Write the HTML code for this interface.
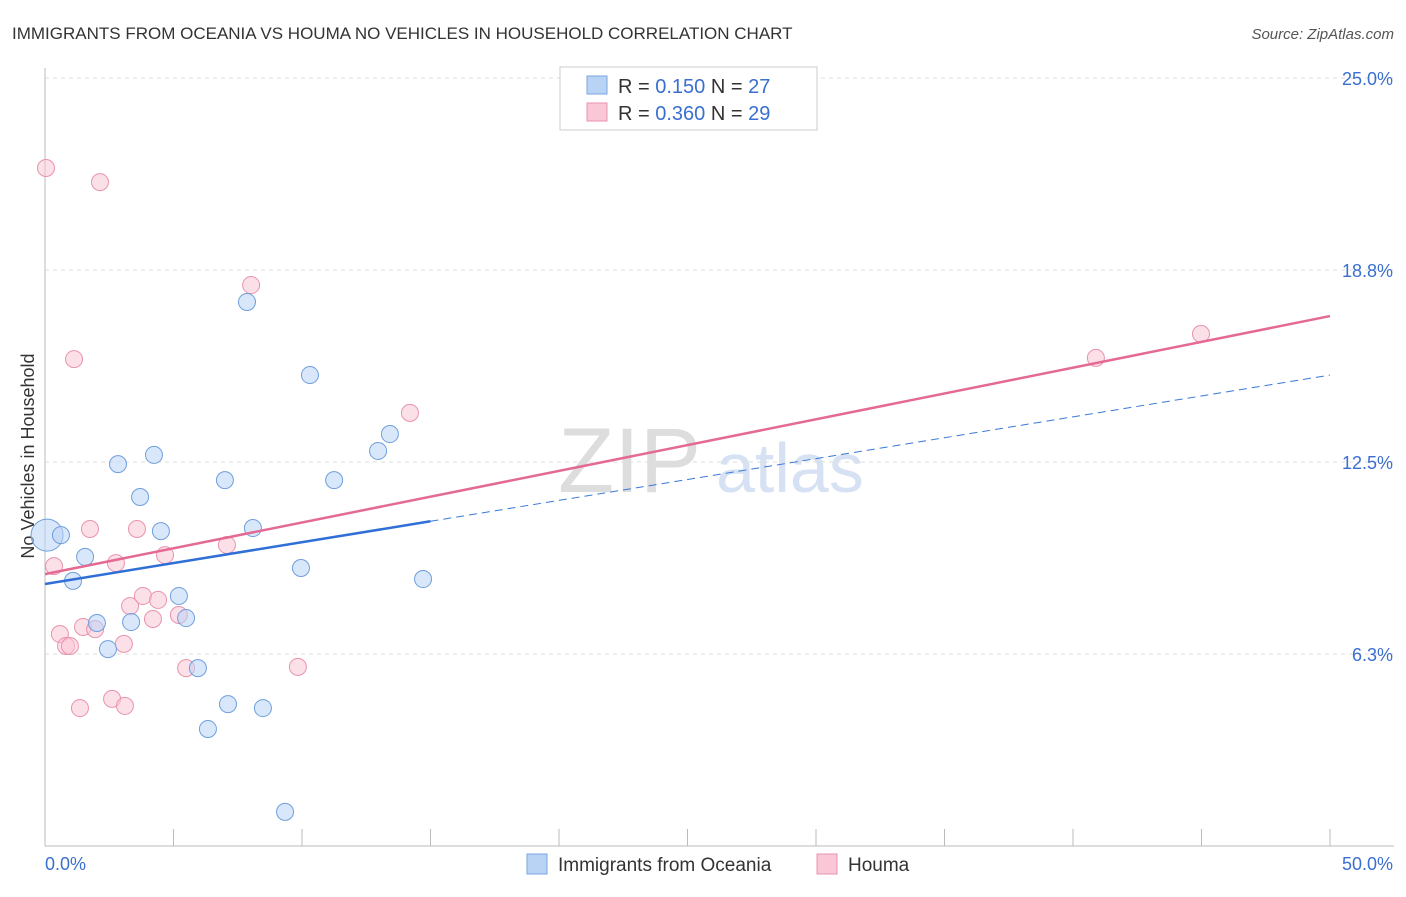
<!DOCTYPE html>
<html><head><meta charset="utf-8"><style>
body{margin:0;background:#fff;font-family:"Liberation Sans",sans-serif}
svg text{font-family:"Liberation Sans",sans-serif}
</style></head><body>
<svg id="c" width="1406" height="892">
<text x="12" y="39" font-size="17" fill="#333">IMMIGRANTS FROM OCEANIA VS HOUMA NO VEHICLES IN HOUSEHOLD CORRELATION CHART</text>
<text x="1394" y="39" font-size="15" fill="#555" text-anchor="end" font-style="italic">Source: ZipAtlas.com</text>
<text x="558" y="492" font-size="92" fill="#ddd" font-family="Liberation Serif">ZIP</text>
<text x="716" y="492" font-size="70" fill="#d6e2f3">atlas</text>
<text transform="translate(34,456) rotate(-90)" font-size="18" fill="#333" text-anchor="middle">No Vehicles in Household</text>
<g id="grid"></g><g id="marks"></g>
<g>
<rect x="560" y="67" width="257" height="63" fill="#fff" stroke="#ccc"/>
<rect x="587" y="76" width="20" height="18" fill="#b9d3f5" stroke="#7aa6e0"/>
<rect x="587" y="103" width="20" height="18" fill="#f9c7d6" stroke="#e993ad"/>
<text x="618" y="93" font-size="20" fill="#333">R = <tspan fill="#3a6fd0">0.150</tspan>  N = <tspan fill="#3a6fd0">27</tspan></text>
<text x="618" y="120" font-size="20" fill="#333">R = <tspan fill="#3a6fd0">0.360</tspan>  N = <tspan fill="#3a6fd0">29</tspan></text>
</g>
<g>
<rect x="527" y="854" width="20" height="20" fill="#b9d3f5" stroke="#7aa6e0"/>
<text x="558" y="871" font-size="19" fill="#333">Immigrants from Oceania</text>
<rect x="817" y="854" width="20" height="20" fill="#f9c7d6" stroke="#e993ad"/>
<text x="848" y="871" font-size="19" fill="#333">Houma</text>
</g>
</svg>
<script>
const yTicks=[6.25,12.5,18.75,25];
const yTickLabels=["6.3%","12.5%","18.8%","25.0%"];
const xTickLabels=["0.0%","50.0%"];
const blueX=[0.08,0.62,1.56,1.09,2.84,3.70,4.24,4.51,2.02,3.35,2.45,5.21,5.49,5.95,7.12,6.34,8.48,7.00,8.09,7.86,10.31,11.25,9.96,12.96,13.42,14.71,9.34];
const blueY=[10.12,10.12,9.41,8.63,12.43,11.36,12.73,10.25,7.26,7.29,6.41,8.14,7.42,5.79,4.62,3.81,4.49,11.91,10.35,17.71,15.33,11.91,9.05,12.86,13.41,8.69,1.11];
const pinkX=[0.04,2.14,1.13,8.02,14.20,0.35,1.75,3.58,2.76,4.67,7.08,0.58,0.82,0.97,1.48,1.95,3.31,3.81,4.40,4.20,5.21,3.07,5.49,9.84,2.61,3.11,1.36,40.89,44.98];
const pinkY=[22.07,21.61,15.85,18.26,14.10,9.11,10.32,10.32,9.21,9.47,9.80,6.90,6.51,6.51,7.13,7.06,7.81,8.14,8.01,7.39,7.52,6.58,5.79,5.83,4.79,4.56,4.49,15.89,16.67];
const blueTrend=[8.53,15.33];
const pinkTrend=[8.85,17.25];
const NS="http://www.w3.org/2000/svg";
const sx=v=>45+v*25.7, sy=v=>846-v*30.72;
function mk(tag,attrs,parent){const e=document.createElementNS(NS,tag);for(const k in attrs)e.setAttribute(k,attrs[k]);parent.appendChild(e);return e;}
const grid=document.getElementById('grid'),marks=document.getElementById('marks');
yTicks.forEach((t,i)=>{
 const l=mk('line',{x1:45,x2:1394,y1:sy(t),y2:sy(t),stroke:'#ddd','stroke-dasharray':'4,4'},grid);
 
 
 const tx=mk('text',{x:1393,y:sy(t)+7,'font-size':18,fill:'#3a6fd0','text-anchor':'end'},grid);
 tx.textContent=yTickLabels[i];
 
 
});
let ax=mk('line',{x1:45,x2:45,y1:68,y2:846,stroke:'#bbb'},grid);


ax=mk('line',{x1:45,x2:1394,y1:846,y2:846,stroke:'#bbb'},grid);


for(let i=0;i<=10;i++){const t=mk('line',{x1:sx(i*5),x2:sx(i*5),y1:829,y2:846,stroke:'#bbb'},grid);
 
 }
[[0,"start",45],[50,"end",1393]].forEach((d,i)=>{const t=mk('text',{x:d[2],y:870,'font-size':18,fill:'#3a6fd0','text-anchor':d[1]},grid);t.textContent=xTickLabels[i];
 
 });
function pts(X,Y,fill,stroke,name){X.forEach((x,i)=>{const c=mk('circle',{cx:sx(x),cy:sy(Y[i]),r:(i==0&&name=='blue-point')?16:8.5,fill:fill,'fill-opacity':0.55,stroke:stroke,'stroke-width':1},marks);
 
 });}
pts(pinkX,pinkY,'#f9c7d6','#e993ad','pink-point');
pts(blueX,blueY,'#b9d3f5','#6f9fdc','blue-point');
const at=(tr,x)=>tr[0]+(tr[1]-tr[0])*x/50;
let l=mk('line',{x1:sx(15),y1:sy(at(blueTrend,15)),x2:sx(50),y2:sy(at(blueTrend,50)),stroke:'#3a78d8','stroke-width':1,'stroke-dasharray':'8,5'},marks);


l=mk('line',{x1:sx(0),y1:sy(at(blueTrend,0)),x2:sx(15),y2:sy(at(blueTrend,15)),stroke:'#2f6fd6','stroke-width':2.5},marks);


l=mk('line',{x1:sx(0),y1:sy(at(pinkTrend,0)),x2:sx(50),y2:sy(at(pinkTrend,50)),stroke:'#e46a93','stroke-width':2.5},marks);


</script>
</body></html>
